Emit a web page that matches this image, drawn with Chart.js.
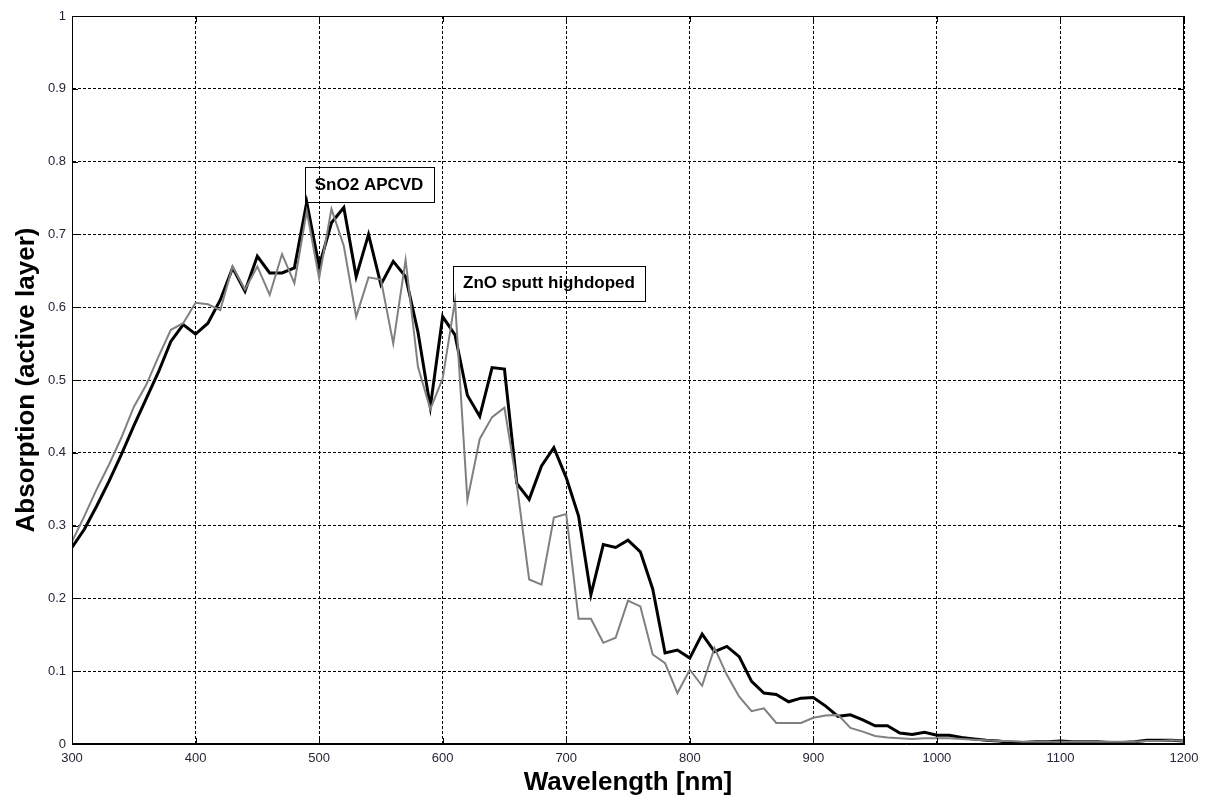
<!DOCTYPE html>
<html>
<head>
<meta charset="utf-8">
<script src="https://cdn.jsdelivr.net/npm/chart.js@4.4.1/dist/chart.umd.min.js"></script>
<style>
  html, body { margin: 0; padding: 0; background: #fff; }
  #wrap { width: 1207px; height: 798px; }
</style>
</head>
<body>
<div id="wrap"><canvas id="absorption" width="1207" height="798"></canvas></div>
<script>
// wavelength grid in nm
const wavelength = [
  300, 310, 320, 330, 340, 350, 360, 370, 380, 390,
  400, 410, 420, 430, 440, 450, 460, 470, 480, 490,
  500, 510, 520, 530, 540, 550, 560, 570, 580, 590,
  600, 610, 620, 630, 640, 650, 660, 670, 680, 690,
  700, 710, 720, 730, 740, 750, 760, 770, 780, 790,
  800, 810, 820, 830, 840, 850, 860, 870, 880, 890,
  900, 910, 920, 930, 940, 950, 960, 970, 980, 990,
  1000, 1010, 1020, 1030, 1040, 1050, 1060, 1070, 1080, 1090,
  1100, 1110, 1120, 1130, 1140, 1150, 1160, 1170, 1180, 1190,
  1200
];

// absorption in the active layer, SnO2 APCVD front contact
const snO2 = [
  0.270, 0.295, 0.327, 0.361, 0.398, 0.437, 0.474, 0.511, 0.553, 0.576,
  0.563, 0.578, 0.610, 0.654, 0.622, 0.670, 0.647, 0.647, 0.654, 0.744,
  0.656, 0.716, 0.737, 0.642, 0.700, 0.631, 0.663, 0.642, 0.566, 0.463,
  0.587, 0.562, 0.479, 0.450, 0.517, 0.515, 0.358, 0.336, 0.382, 0.407,
  0.366, 0.313, 0.205, 0.274, 0.270, 0.280, 0.264, 0.213, 0.125, 0.129,
  0.118, 0.151, 0.127, 0.134, 0.120, 0.086, 0.070, 0.068, 0.058, 0.063,
  0.064, 0.052, 0.038, 0.040, 0.033, 0.025, 0.025, 0.015, 0.013, 0.016,
  0.012, 0.012, 0.009, 0.007, 0.005, 0.004, 0.002, 0.002, 0.003, 0.003,
  0.004, 0.003, 0.003, 0.003, 0.002, 0.002, 0.003, 0.005, 0.005, 0.005,
  0.004
];

// absorption in the active layer, sputtered high-doped ZnO front contact
const znO = [
  0.278, 0.313, 0.350, 0.384, 0.421, 0.463, 0.493, 0.532, 0.569, 0.578,
  0.606, 0.604, 0.596, 0.656, 0.624, 0.656, 0.617, 0.673, 0.633, 0.732,
  0.640, 0.735, 0.684, 0.587, 0.641, 0.638, 0.550, 0.665, 0.518, 0.460,
  0.502, 0.609, 0.335, 0.419, 0.449, 0.462, 0.357, 0.226, 0.219, 0.311,
  0.316, 0.172, 0.172, 0.139, 0.146, 0.197, 0.189, 0.123, 0.111, 0.070,
  0.102, 0.080, 0.132, 0.095, 0.065, 0.045, 0.049, 0.029, 0.029, 0.029,
  0.036, 0.039, 0.040, 0.022, 0.017, 0.011, 0.009, 0.008, 0.007, 0.008,
  0.008, 0.008, 0.007, 0.006, 0.005, 0.004, 0.004, 0.003, 0.003, 0.003,
  0.003, 0.003, 0.003, 0.003, 0.003, 0.003, 0.003, 0.004, 0.004, 0.005,
  0.004
];

const xTicks = [300, 400, 500, 600, 700, 800, 900, 1000, 1100, 1200];
const yTicks = [0, 0.1, 0.2, 0.3, 0.4, 0.5, 0.6, 0.7, 0.8, 0.9, 1];
const yTickLabels = ["0", "0.1", "0.2", "0.3", "0.4", "0.5", "0.6", "0.7", "0.8", "0.9", "1"];

// text boxes sitting on a point of a curve
const notes = [
  { text: "SnO2 APCVD", at: 490, series: snO2 },
  { text: "ZnO sputt highdoped", at: 610, series: znO },
];

const FONT = '"Liberation Sans", Arial, Helvetica, sans-serif';
const toPoints = (ys) => wavelength.map((w, i) => ({ x: w, y: ys[i] }));

// box around the axes, small inward ticks and the curve labels
const frameAndNotes = {
  id: "frameAndNotes",
  afterDatasetsDraw(chart) {
    const { ctx, chartArea: { left, top, right, bottom }, scales: { x, y } } = chart;
    ctx.save();
    ctx.strokeStyle = "#000";
    ctx.lineWidth = 1;
    ctx.setLineDash([]);
    ctx.strokeRect(left + 0.5, top + 0.5, right - left - 1, bottom - top - 1);

    ctx.beginPath();
    xTicks.forEach((v) => {
      const px = Math.round(x.getPixelForValue(v)) + 0.5;
      ctx.moveTo(px, bottom); ctx.lineTo(px, bottom - 6);
      ctx.moveTo(px, top); ctx.lineTo(px, top + 6);
    });
    yTicks.forEach((v) => {
      const py = Math.round(y.getPixelForValue(v)) + 0.5;
      ctx.moveTo(left, py); ctx.lineTo(left + 6, py);
      ctx.moveTo(right, py); ctx.lineTo(right - 6, py);
    });
    ctx.stroke();

    ctx.font = "bold 17px " + FONT;
    ctx.textBaseline = "middle";
    ctx.textAlign = "left";
    ctx.fillStyle = "#000";
    notes.forEach((n) => {
      const val = n.series[wavelength.indexOf(n.at)];
      const px = x.getPixelForValue(n.at) - 2;
      const py = y.getPixelForValue(val);
      const w = ctx.measureText(n.text).width + 20;
      const h = 35;
      ctx.strokeRect(Math.round(px) + 0.5, Math.round(py - h) + 0.5, Math.round(w), h);
      ctx.fillText(n.text, px + 10, py - h / 2);
    });
    ctx.restore();
  },
};

const ctx = document.getElementById("absorption").getContext("2d");

new Chart(ctx, {
  type: "line",
  data: {
    datasets: [
      {
        label: "ZnO sputt highdoped",
        data: toPoints(znO),
        borderColor: "#808080",
        borderWidth: 2,
        pointRadius: 0,
        tension: 0,
        fill: false,
        order: 0,
      },
      {
        label: "SnO2 APCVD",
        data: toPoints(snO2),
        borderColor: "#000000",
        borderWidth: 3,
        pointRadius: 0,
        tension: 0,
        fill: false,
        order: 1,
      },
    ],
  },
  options: {
    responsive: false,
    animation: false,
    events: [],
    layout: { padding: { top: 16, right: 23, left: 0, bottom: 0 } },
    plugins: {
      legend: { display: false },
      tooltip: { enabled: false },
    },
    scales: {
      x: {
        type: "linear",
        min: 300,
        max: 1200,
        afterFit: (s) => { s.height = 54; },
        afterBuildTicks: (s) => { s.ticks = xTicks.map((v) => ({ value: v })); },
        grid: { color: "#000", lineWidth: 1, drawTicks: false },
        border: { display: true, color: "#000", width: 1, dash: [3, 2] },
        ticks: {
          padding: 7,
          color: "#262638",
          font: { family: FONT, size: 13 },
          maxRotation: 0,
          autoSkip: false,
          callback: (v) => String(v),
        },
        title: {
          display: true,
          text: "Wavelength [nm]",
          color: "#000",
          font: { family: FONT, size: 26, weight: "bold" },
          padding: { top: 3, bottom: 0 },
        },
      },
      y: {
        type: "linear",
        min: 0,
        max: 1,
        afterFit: (s) => { s.width = 72; },
        afterBuildTicks: (s) => { s.ticks = yTicks.map((v) => ({ value: v })); },
        grid: { color: "#000", lineWidth: 1, drawTicks: false },
        border: { display: true, color: "#000", width: 1, dash: [3, 2] },
        ticks: {
          padding: 6,
          color: "#262638",
          font: { family: FONT, size: 13 },
          autoSkip: false,
          callback: (v) => yTickLabels[yTicks.indexOf(v)] ?? "",
        },
        title: {
          display: true,
          text: "Absorption (active layer)",
          color: "#000",
          font: { family: FONT, size: 26, weight: "bold" },
          padding: { top: 11, bottom: 0 },
        },
      },
    },
  },
  plugins: [frameAndNotes],
});
</script>
</body>
</html>
